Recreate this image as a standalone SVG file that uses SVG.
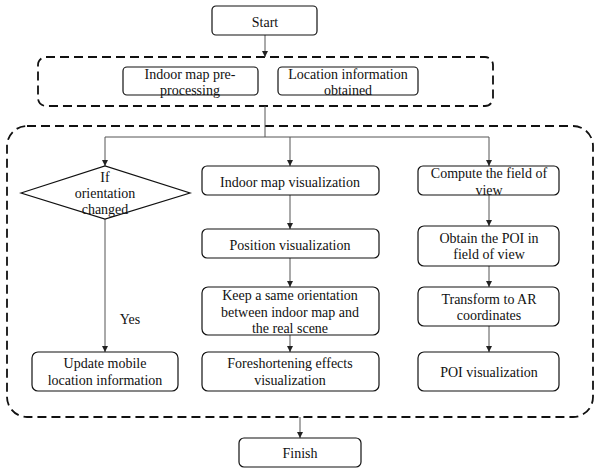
<svg xmlns="http://www.w3.org/2000/svg" width="600" height="474" viewBox="0 0 600 474">
<style>
.box{fill:#fff;stroke:#111;stroke-width:1.2}
.dash{fill:none;stroke:#111;stroke-width:1.8;stroke-dasharray:9,5}
.t{font-family:"Liberation Serif","Times New Roman",serif;font-size:14px;fill:#111;text-anchor:middle}
.c{fill:none;stroke:#555;stroke-width:1}
</style>
<defs>
<marker id="ah" markerWidth="6" markerHeight="6" refX="6" refY="3" orient="auto" markerUnits="userSpaceOnUse">
<path d="M0,0 L6,3 L0,6 Z" fill="#222"/>
</marker>
</defs>
<rect width="600" height="474" fill="#fff"/>
<g id="group-preprocess"><rect class="dash" x="38" y="57" width="455" height="49" rx="8"/></g>
<g id="group-main"><rect class="dash" x="7" y="126" width="586" height="291" rx="20"/></g>
<g id="connectors">
<line class="c" x1="265" y1="35" x2="265" y2="57" marker-end="url(#ah)"/>
<polyline class="c" points="265,106 265,137"/>
<line class="c" x1="105" y1="137" x2="489" y2="137"/>
<line class="c" x1="105" y1="137" x2="105" y2="166" marker-end="url(#ah)"/>
<line class="c" x1="290" y1="137" x2="290" y2="166" marker-end="url(#ah)"/>
<line class="c" x1="489" y1="137" x2="489" y2="166" marker-end="url(#ah)"/>
<line class="c" x1="105" y1="219" x2="105" y2="352" marker-end="url(#ah)"/>
<line class="c" x1="290" y1="195" x2="290" y2="229" marker-end="url(#ah)"/>
<line class="c" x1="290" y1="258" x2="290" y2="287" marker-end="url(#ah)"/>
<line class="c" x1="290" y1="335" x2="290" y2="352" marker-end="url(#ah)"/>
<line class="c" x1="489" y1="195" x2="489" y2="226" marker-end="url(#ah)"/>
<line class="c" x1="489" y1="266" x2="489" y2="287" marker-end="url(#ah)"/>
<line class="c" x1="489" y1="326" x2="489" y2="352" marker-end="url(#ah)"/>
<line class="c" x1="300" y1="417" x2="300" y2="438" marker-end="url(#ah)"/>
<text class="t" x="130" y="324">Yes</text>
</g>
<g id="start"><rect class="box" x="212" y="6" width="105" height="29" rx="4"/><text class="t" x="265" y="27">Start</text></g>
<g id="preprocess"><rect class="box" x="123" y="67" width="135" height="28" rx="4"/><text class="t" x="190" y="79">Indoor map pre-</text><text class="t" x="190" y="95">processing</text></g>
<g id="location"><rect class="box" x="278" y="67" width="140" height="28" rx="4"/><text class="t" x="348" y="79">Location information</text><text class="t" x="348" y="95">obtained</text></g>
<g id="decision"><polygon class="box" points="21,193 105,166 190,193 105,219"/><text class="t" x="105" y="182">If</text><text class="t" x="105" y="198">orientation</text><text class="t" x="105" y="214">changed</text></g>
<g id="update"><rect class="box" x="32" y="352" width="146" height="39" rx="6"/><text class="t" x="105" y="368">Update mobile</text><text class="t" x="105" y="385">location information</text></g>
<g id="mapvis"><rect class="box" x="202" y="166" width="177" height="29" rx="5"/><text class="t" x="290" y="187">Indoor map visualization</text></g>
<g id="posvis"><rect class="box" x="202" y="229" width="177" height="29" rx="5"/><text class="t" x="290" y="250">Position visualization</text></g>
<g id="keep"><rect class="box" x="202" y="287" width="177" height="48" rx="6"/><text class="t" x="290" y="300">Keep a same orientation</text><text class="t" x="290" y="317">between indoor map and</text><text class="t" x="290" y="333">the real scene</text></g>
<g id="foreshort"><rect class="box" x="202" y="352" width="177" height="39" rx="6"/><text class="t" x="290" y="368">Foreshortening effects</text><text class="t" x="290" y="385">visualization</text></g>
<g id="compute"><rect class="box" x="418" y="166" width="141" height="29" rx="5"/><text class="t" x="489" y="178">Compute the field of</text><text class="t" x="489" y="195">view</text></g>
<g id="obtain"><rect class="box" x="418" y="226" width="141" height="40" rx="6"/><text class="t" x="489" y="243">Obtain the POI in</text><text class="t" x="489" y="259">field of view</text></g>
<g id="transform"><rect class="box" x="418" y="287" width="141" height="39" rx="6"/><text class="t" x="489" y="304">Transform to AR</text><text class="t" x="489" y="320">coordinates</text></g>
<g id="poivis"><rect class="box" x="418" y="352" width="141" height="39" rx="6"/><text class="t" x="489" y="377">POI visualization</text></g>
<g id="finish"><rect class="box" x="239" y="438" width="122" height="29" rx="5"/><text class="t" x="300" y="458">Finish</text></g>
</svg>
